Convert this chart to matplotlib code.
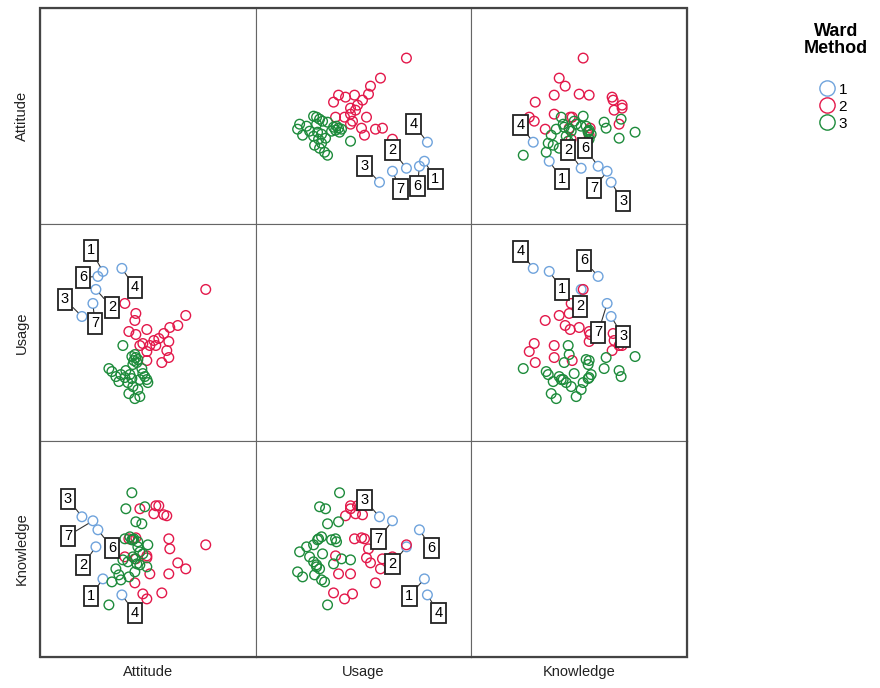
import matplotlib
matplotlib.use("Agg")
import matplotlib.pyplot as plt
from matplotlib.lines import Line2D
from matplotlib.patches import Rectangle

plt.rcParams['font.family'] = ['Liberation Sans', 'DejaVu Sans']

variables = ['Attitude', 'Usage', 'Knowledge']

# cluster 1 (labelled cases)
case_ids = ['1', '2', '3', '4', '6', '7']
att_1 = [63, 56, 42, 82, 58, 53]
use_1 = [169, 151, 124, 172, 164, 137]
know_1 = [78, 110, 140, 62, 127, 136]

# cluster 2
att_2 = [166, 85, 96, 146, 95, 138, 130, 107, 89, 124, 96, 119, 114, 129,
         103, 100, 116, 110, 127, 107, 129, 107, 122]
use_2 = [151, 137, 127, 125, 120, 115, 113, 111, 109, 107, 106, 102, 100, 99,
         97, 95, 95, 95, 90, 89, 83, 80, 78]
know_2 = [112, 100, 98, 88, 74, 94, 108, 99, 118, 142, 119, 151, 143, 118,
          63, 148, 151, 83, 141, 58, 83, 101, 64]

# cluster 3
att_3 = [83, 95, 92, 96, 98, 94, 97, 93, 69, 102, 86, 72, 103, 81, 90, 76,
         105, 85, 92, 107, 100, 79, 88, 108, 93, 98, 89, 100, 95]
use_3 = [95, 86, 84, 83, 81, 80, 78, 76, 72, 72, 70, 69, 67, 66, 66, 64,
         64, 63, 62, 61, 61, 59, 58, 58, 54, 51, 47, 44, 42]
know_3 = [97, 98, 164, 135, 115, 118, 93, 117, 52, 133, 148, 75, 103, 77, 120, 88,
          150, 118, 117, 90, 92, 82, 95, 112, 100, 110, 80, 105, 85]

clusters = [
    ('1', '#6fa3dc', [att_1, use_1, know_1]),
    ('2', '#e3184a', [att_2, use_2, know_2]),
    ('3', '#1d8b3b', [att_3, use_3, know_3]),
]

# label box offsets (pixels, screen y down) for cases 1,2,3,4,6,7 per panel
label_offsets = {
    (0, 1): [(11, 18), (-14, -18), (-15, -16), (-14, -18), (-2, 20), (8, 18)],
    (0, 2): [(13, 18), (-13, -18), (12, 19), (-13, -17), (-13, -18), (-13, 17)],
    (1, 0): [(-12, -21), (16, 18), (-17, -17), (13, 19), (-15, 1), (2, 20)],
    (1, 2): [(13, 18), (-1, 17), (12, 20), (-13, -17), (-14, -16), (-9, 29)],
    (2, 0): [(-12, 17), (-13, 18), (-14, -18), (13, 18), (14, 18), (-25, 15)],
    (2, 1): [(-15, 17), (-14, 17), (-15, -17), (11, 18), (12, 18), (-14, 18)],
}

W, H = 880, 688
fig = plt.figure(figsize=(W / 100, H / 100), dpi=100)

left, right, top, bottom = 40, 687, 8, 657
cw = (right - left) / 3
ch = (bottom - top) / 3

for r in range(3):
    for c in range(3):
        x0 = left + c * cw
        y0 = top + (r + 1) * ch
        ax = fig.add_axes([x0 / W, 1 - y0 / H, cw / W, ch / H])
        ax.set_xlim(0, 216)
        ax.set_ylim(0, 216)
        ax.set_xticks([])
        ax.set_yticks([])
        for s in ax.spines.values():
            s.set_color('#666666')
            s.set_linewidth(0.8)
        if r == c:
            continue
        for name, col, vals in clusters:
            ax.scatter(vals[c], vals[r], s=48, facecolors='none', edgecolors=col,
                       linewidths=1.0, zorder=2)
        offs = label_offsets[(r, c)]
        for i, cid in enumerate(case_ids):
            dx, dy = offs[i]
            ax.annotate(cid, xy=(clusters[0][2][c][i], clusters[0][2][r][i]),
                        xytext=(dx, -dy), textcoords='offset pixels',
                        ha='center', va='center', fontsize=10.5, zorder=5,
                        bbox=dict(boxstyle='square,pad=0.22', fc='white',
                                  ec='#222222', lw=1.3),
                        arrowprops=dict(arrowstyle='-', color='#333333', lw=0.8,
                                        shrinkA=0, shrinkB=4),
                        annotation_clip=False)

# outer frame
frame = Rectangle((left / W, 1 - bottom / H), (right - left) / W, (bottom - top) / H,
                  transform=fig.transFigure, fill=False, ec='#444444', lw=1.6)
fig.patches.append(frame)

# variable names
for i, v in enumerate(variables):
    fig.text((left + (i + 0.5) * cw) / W, 1 - 672 / H, v, ha='center', va='center',
             fontsize=10.5, color='#222222')
    fig.text(22 / W, 1 - (top + (i + 0.5) * ch) / H, v, ha='center', va='center',
             rotation=90, fontsize=10.5, color='#222222')

# legend
fig.text(836 / W, 1 - 40 / H, 'Ward\nMethod', ha='center', va='center',
         fontsize=13, fontweight='bold', linespacing=1.05)
handles = [Line2D([], [], marker='o', ls='none', mfc='none', mec=col, mew=1.0,
                  markersize=11, label=name) for name, col, _ in clusters]
fig.legend(handles=handles, loc='upper left', bbox_to_anchor=(808 / W, 1 - 75 / H),
           frameon=False, handletextpad=0.0, labelspacing=0.2, fontsize=11,
           borderpad=0, handlelength=1.5)

fig.savefig('out.png', dpi=100)
